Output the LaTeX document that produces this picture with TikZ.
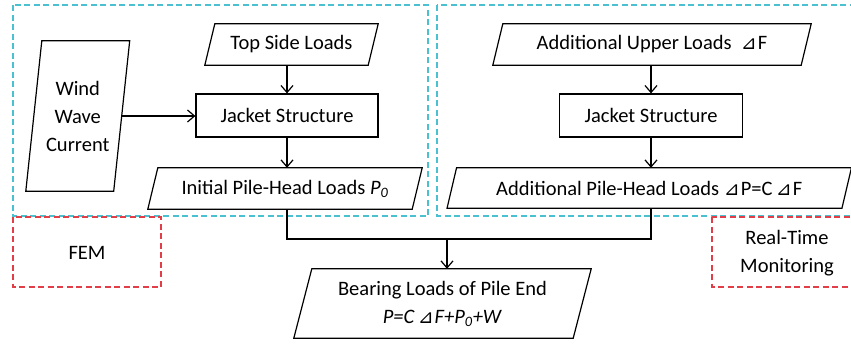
\documentclass[tikz,border=0pt]{standalone}
\usepackage{fontspec}
\setmainfont{Carlito}
\newfontfamily\dejavu{DejaVu Sans}
\usetikzlibrary{arrows.meta}
\definecolor{cyanbox}{RGB}{75,192,208}
\definecolor{redbox}{RGB}{226,62,72}
\newcommand{\dlt}{{\dejavu\fontsize{19}{19}\selectfont ⊿}\kern1pt}
\newcommand{\Pz}{\textit{P}\textsubscript{\textit{0}}}
\tikzset{
  x=1pt, y=-1pt,
  txt/.style={inner sep=0pt, align=center, font=\fontsize{20.5}{28}\selectfont},
  boxline/.style={draw=black, line width=1.2pt},
  flow/.style={draw=black, line width=1.2pt, -{Straight Barb[length=7pt,width=12pt,line width=1.2pt]}},
  cyanframe/.style={draw=cyanbox, line width=1.5pt, dash pattern=on 6pt off 3.5pt},
  redframe/.style={draw=redbox, line width=1.5pt, dash pattern=on 6pt off 3.5pt},
}
% parallelogram: name, cx, cy, w, h, slant, text
\newcommand{\para}[7]{%
  \node[txt, minimum width=#4pt, minimum height=#5pt] (#1) at (#2,#3) {#7};
  \draw[boxline] ([xshift=#6pt/2]#1.north west) -- ([xshift=#6pt/2]#1.north east)
    -- ([xshift=-#6pt/2]#1.south east) -- ([xshift=-#6pt/2]#1.south west) -- cycle;
}
\begin{document}
\begin{tikzpicture}
\useasboundingbox (0,0) rectangle (851,346);
% frames
\draw[cyanframe] (13,5) rectangle (428,216);
\draw[cyanframe] (437,5) rectangle (858,216);
\draw[redframe] (13,217) rectangle (161,287);
\draw[redframe] (712,217) rectangle (858,287);
\node[txt] (fem) at (87,253) {FEM};
\node[txt] (rtm) at (787,253) {Real-Time\\Monitoring};
% left part
\para{wind}{77.75}{116}{87.5}{150}{16}{Wind\\Wave\\Current}
\para{top}{291.5}{44.5}{163}{41}{10}{Top Side Loads}
\node[txt, draw, line width=1.2pt, minimum width=182pt, minimum height=43pt] (jl) at (287,115.5) {Jacket Structure};
\para{init}{285}{188.5}{264}{41}{10}{Initial Pile-Head Loads \Pz}
% right part
\para{addu}{652}{44.5}{308}{41}{10}{Additional Upper Loads~~\dlt F}
\node[txt, draw, line width=1.2pt, minimum width=183pt, minimum height=43pt] (jr) at (651,115.5) {Jacket Structure};
\para{addp}{649.25}{188}{394.5}{40}{9.5}{Additional Pile-Head Loads \dlt P=C\,\dlt F}
% bottom
\para{bear}{442.5}{303.5}{279}{69}{18}{Bearing Loads of Pile End\\\textit{P=C\,\dlt F+}\Pz\textit{+W}}
% connectors
\draw[flow] (top.south -| jl) -- (jl.north);
\draw[flow] (jl.south) -- (init.north -| jl);
\draw[flow] (wind.east) -- (jl.west |- wind.east);
\draw[flow] (addu.south -| jr) -- (jr.north);
\draw[flow] (jr.south) -- (addp.north -| jr);
\coordinate (m) at (447,239);
\draw[boxline] (init.south -| jl) |- (m) -| (addp.south -| jr);
\draw[flow] (m) -- (bear.north -| m);
\end{tikzpicture}
\end{document}
